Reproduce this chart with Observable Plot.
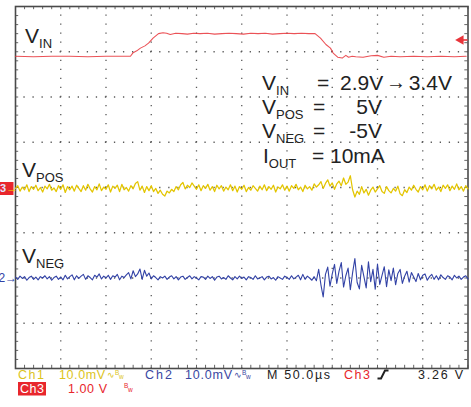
<!DOCTYPE html>
<html><head><meta charset="utf-8">
<script src="https://cdn.jsdelivr.net/npm/d3@7"></script>
<script src="https://cdn.jsdelivr.net/npm/@observablehq/plot@0.6"></script>
<style>
html,body{margin:0;padding:0;background:#fff;}
#chart svg{display:block;}
</style></head><body><div id="chart"></div>
<script>
// ---- scope settings ----
const timePerDivUs = 50;          // M 50.0µs
const channelNames = ["Ch1", "Ch2", "Ch3"];
const channelVoltsPerDiv = [10, 10, 1];   // mV, mV, V
const channelOffsetDiv = [0, -2, 0];      // marker positions (div)
const channelSettingText = ["10.0mV", "10.0mV", "1.00 V"];
const timebaseText = "M 50.0µs";
const triggerLevelV = 3.26;
const triggerText = "3.26 V";

// ---- Ch3: VIN (V) ----
const vinTimeUs = [0,20,40,60,80,100,120,127,130,134,138,143,147,152,158,163,167,171,177,184,190,197,204,212,220,228,236,244,252,260,268,276,284,292,300,308,316,324,331,337,343,348,351,356,361,365,368,372,376,384,393,400,407,415,425,440,455,470,485,498];
const vinVolts = [2.90,2.89,2.90,2.90,2.89,2.90,2.90,2.90,2.98,3.02,3.08,3.13,3.19,3.30,3.40,3.42,3.41,3.38,3.41,3.40,3.39,3.41,3.40,3.41,3.39,3.40,3.41,3.40,3.39,3.41,3.40,3.41,3.39,3.40,3.41,3.40,3.41,3.40,3.40,3.30,3.16,3.08,2.97,2.88,2.86,2.92,2.88,2.90,2.89,2.88,2.91,2.92,2.88,2.90,2.89,2.90,2.89,2.90,2.89,2.90];

// ---- Ch1: VPOS ripple (mV), one sample per 2.5 µs ----
const sampleStepUs = 2.5;
const vposMilliVolts = [
-0.2,0.4,-0.8,0.1,-0.5,0.6,-0.9,0.2,-0.4,0.5,
-0.7,0.0,-1.0,0.3,-0.3,0.7,-0.6,-0.1,-0.9,0.4,
-0.4,0.6,-1.1,0.2,-0.5,0.3,-0.8,0.5,-0.2,-0.9,
0.4,-0.6,0.7,-0.3,-1.0,0.2,-0.5,0.8,-0.7,0.1,
-0.4,0.6,-1.0,0.3,-0.2,0.5,-0.9,0.7,-0.5,0.0,
-0.8,0.4,-0.3,0.9,1.3,-0.6,0.3,-1.1,0.2,-0.7,
0.4,-0.9,-0.2,-1.3,-0.6,-1.5,-1.9,-0.8,-1.2,-0.4,
-0.9,0.2,-0.5,0.6,1.1,-0.3,0.5,0.0,1.0,0.3,
-0.4,0.6,-0.7,0.4,-0.2,0.7,-0.6,0.2,-0.9,0.5,
-0.3,0.4,-0.8,0.1,-0.5,0.6,-0.7,0.3,-1.0,0.2,
-0.4,0.5,-0.9,0.0,-0.6,0.4,-0.2,-0.8,0.3,-0.5,
0.6,-0.7,0.2,-0.4,0.5,-1.0,0.1,-0.3,0.6,-0.6,
0.3,-0.8,0.4,-0.2,0.7,-0.5,0.1,-0.9,0.5,-0.3,
0.2,-0.6,0.8,0.1,0.6,1.3,-0.2,0.9,1.7,0.3,
1.0,-0.4,0.8,1.4,0.4,2.1,0.7,1.2,2.6,-0.5,
-2.1,-0.8,-1.5,0.2,-1.2,-0.4,-1.7,-0.6,0.1,-1.0,
-0.3,0.4,-0.9,-1.3,0.2,-0.7,-1.2,-0.2,-0.8,0.3,
-1.4,-1.8,-0.5,-1.1,0.1,-0.6,0.5,-0.4,-1.0,0.2,
-0.5,0.6,-0.8,0.4,-0.3,0.7,-0.6,0.1,-0.9,0.5,
-0.2,0.6,-0.7,0.3,-0.4,0.8,-0.5,0.2,-0.8,0.4,-0.3];

// ---- Ch2: VNEG ripple (mV), one sample per 2.5 µs ----
const vnegMilliVolts = [
0.2,-0.3,0.4,-0.1,0.3,-0.5,0.1,0.4,-0.3,0.2,
-0.4,0.3,0.0,0.5,-0.2,0.3,-0.5,0.1,0.4,-0.3,
0.2,-0.4,0.6,-0.2,0.3,0.7,-0.4,0.5,-0.1,0.4,
0.8,-0.3,0.5,0.1,-0.4,0.6,0.2,0.9,-0.2,0.4,
0.0,0.6,-0.3,0.5,0.2,0.8,-0.4,0.4,0.1,0.7,
1.2,-0.2,1.6,0.3,0.9,2.0,-0.3,1.7,0.4,1.1,
-0.2,0.5,0.1,-0.4,0.3,0.0,0.4,-0.3,0.2,0.5,
-0.2,0.3,-0.4,0.2,0.4,-0.3,0.1,0.5,-0.2,0.3,
0.0,-0.4,0.3,0.2,-0.3,0.4,-0.1,0.3,-0.5,0.2,
0.4,-0.2,0.1,-0.3,0.5,0.0,-0.4,0.3,-0.2,0.4,
-0.1,0.2,-0.4,0.3,0.1,-0.3,0.5,-0.2,0.0,0.3,
-0.4,0.2,0.4,-0.2,0.1,-0.5,0.3,0.0,-0.3,0.4,
0.1,-0.3,0.5,-0.2,0.2,0.6,-0.4,0.8,-0.3,0.4,
0.0,-0.5,0.3,-0.6,1.9,-1.5,-4.2,0.8,2.4,-1.8,
0.9,3.0,-1.2,1.5,3.4,-2.0,0.5,2.2,-2.6,1.2,
4.3,-1.0,-2.4,2.8,0.3,-2.2,3.6,-0.8,1.9,-2.5,
3.1,-1.4,0.6,2.5,-1.9,1.8,-0.6,2.2,-1.5,1.0,
1.9,-1.2,0.4,1.5,-0.9,1.2,0.2,-0.8,1.0,-0.4,
0.6,0.9,-0.5,0.3,0.8,-0.3,0.5,-0.4,0.7,0.1,
-0.3,0.5,0.2,-0.4,0.6,0.0,0.4,-0.3,0.2,0.5,-0.2];

// ---- annotation text ----
const leftLabels = [["V","IN"],["V","POS"],["V","NEG"]];
const condLabels = [["V","IN"],["V","POS"],["V","NEG"],["I","OUT"]];
const condValues = ["2.9V", "5V", "-5V", "10mA"];
const condArrowTo = "3.4V";

// colours
const cYellow = "#e3c500", cBlue = "#3242a6", cRed = "#e8343a";
const cYellowTxt = "#dcc41c", cBlueTxt = "#3a47a2", cRedTxt = "#e8262c";

// ---- build plotted data (in divisions) ----
const vin = vinTimeUs.map((t, i) => ({t, y: vinVolts[i] / channelVoltsPerDiv[2] + channelOffsetDiv[2]}));
const vpos = vposMilliVolts.map((v, i) => ({t: i * sampleStepUs, y: v / channelVoltsPerDiv[0] + channelOffsetDiv[0]}));
const vneg = vnegMilliVolts.map((v, i) => ({t: i * sampleStepUs, y: v / channelVoltsPerDiv[1] + channelOffsetDiv[1]}));

const fullTime = timePerDivUs * 10;
const majorX = d3.range(0, fullTime + 1, timePerDivUs);
const majorY = d3.range(-4, 4.5, 1);
const minorX = d3.range(0, fullTime + 0.01, timePerDivUs / 5);
const minorY = d3.range(-4, 4.001, 0.2);
const pxPerDiv = 45.25;
const tickLenX = 3.2 * timePerDivUs / pxPerDiv; // µs
const tickLenY = 3.2 / pxPerDiv;                 // div

const gridStyle = {stroke: "#5a5a5a", strokeWidth: 1.3, strokeDasharray: "1.3 7.75", strokeDashoffset: 0.65};

const plot = Plot.plot({
  width: 471, height: 407,
  marginLeft: 15, marginRight: 3.5, marginTop: 6, marginBottom: 39,
  x: {domain: [0, fullTime], axis: null},
  y: {domain: [-4, 4], axis: null},
  style: {background: "#fff", overflow: "visible"},
  marks: [
    Plot.ruleX(majorX.slice(1, -1), {x: d => d, ...gridStyle}),
    Plot.ruleY(majorY.slice(1, -1), {y: d => d, ...gridStyle}),
    Plot.ruleX(minorX, {x: d => d, y1: -4, y2: -4 + tickLenY, stroke: "#666", strokeWidth: 1}),
    Plot.ruleX(minorX, {x: d => d, y1: 4, y2: 4 - tickLenY, stroke: "#666", strokeWidth: 1}),
    Plot.ruleY(minorY, {y: d => d, x1: 0, x2: tickLenX, stroke: "#666", strokeWidth: 1}),
    Plot.ruleY(minorY, {y: d => d, x1: fullTime, x2: fullTime - tickLenX, stroke: "#666", strokeWidth: 1}),
    Plot.frame({stroke: "#4a4a4a", strokeWidth: 1.6}),
    Plot.line(vneg, {x: "t", y: "y", stroke: cBlue, strokeWidth: 1.1}),
    Plot.line(vpos, {x: "t", y: "y", stroke: cYellow, strokeWidth: 1.25}),
    Plot.line(vin, {x: "t", y: "y", stroke: cRed, strokeWidth: 1.1, strokeOpacity: 0.85}),
    Plot.ruleY([triggerLevelV], {y: d => d, x1: fullTime - 8, x2: fullTime, stroke: cRed, strokeWidth: 1.6}),
    Plot.dot([triggerLevelV], {x: fullTime - 8, y: d => d, symbol: "triangle", rotate: -90, r: 3.6, fill: cRed, stroke: "none"})
  ]
});
document.getElementById("chart").appendChild(plot);

// ---- text overlay ----
const svg = d3.select(plot);
const ys = plot.scale("y");
const F = "'Liberation Sans', Arial, Helvetica, sans-serif";
const g = svg.append("g").attr("text-anchor", "start");

function sublabel(x, y, main, sub, fs, ss, fill = "#222") {
  const t = g.append("text").attr("x", x).attr("y", y).attr("font-family", F)
    .attr("font-size", fs).attr("fill", fill).attr("text-anchor", "start");
  t.append("tspan").text(main);
  t.append("tspan").attr("font-size", ss).attr("dy", 5).text(sub);
  return t;
}
function txt(x, y, s, fs, fill = "#222", anchor = "start", extra = {}) {
  const t = g.append("text").attr("x", x).attr("y", y).attr("font-family", F)
    .attr("font-size", fs).attr("fill", fill).attr("text-anchor", anchor).text(s);
  for (const k in extra) t.attr(k, extra[k]);
  return t;
}

// left trace labels
sublabel(25, 43, leftLabels[0][0], leftLabels[0][1], 21, 13);
sublabel(22, 177, leftLabels[1][0], leftLabels[1][1], 21, 13);
sublabel(22, 263, leftLabels[2][0], leftLabels[2][1], 21, 13);

// conditions block
const rowY = [90, 114, 138, 163];
const eqX = [317, 313, 313, 312];
condLabels.forEach((l, i) => {
  sublabel(i === 3 ? 263 : 262, rowY[i], l[0], l[1], 21, 13);
  txt(eqX[i], rowY[i], "=", 21);
});
txt(340, rowY[0], condValues[0], 21);
txt(386, rowY[0] - 1, "→", 20);
txt(452, rowY[0], condArrowTo, 21, "#222", "end");
txt(382, rowY[1], condValues[1], 21, "#222", "end");
txt(382, rowY[2], condValues[2], 21, "#222", "end");
txt(330, rowY[3], condValues[3], 21);

// channel markers in left margin
const y0 = ys.apply(channelOffsetDiv[2]);
g.append("rect").attr("x", -2).attr("y", y0 - 5).attr("width", 15.5).attr("height", 13).attr("fill", cRedTxt);
txt(0, y0 + 5, "3", 11, "#dfe2ff", "start", {"font-weight": "bold"});
txt(6, y0 + 4.5, "→", 12, "#f2d400", "start", {"font-weight": "bold"});
const y2 = ys.apply(channelOffsetDiv[1]);
txt(-1.5, y2 + 4.5, "2", 12, cBlue, "start");
txt(5, y2 + 4.5, "→", 12, cBlue, "start", {"font-weight": "bold"});

// status bar
const r1 = 378.5, r2 = 392.5, sfs = 12.5;
function stat(x, y, s, fill, w, anchor = "start") {
  return txt(x, y, s, sfs, fill, anchor, {textLength: w, lengthAdjust: "spacing"});
}
stat(18, r1, channelNames[0], cYellowTxt, 26);
stat(59, r1, channelSettingText[0], cYellowTxt, 46);
txt(107, r1 - 1, "∿", 9, cYellowTxt);
txt(115, r1 - 3.5, "B", 6.5, cYellowTxt);
txt(119, r1, "w", 6.5, cYellowTxt);
stat(145, r1, channelNames[1], cBlueTxt, 27);
stat(185, r1, channelSettingText[1], cBlueTxt, 47);
txt(234, r1 - 1, "∿", 9, cBlueTxt);
txt(242, r1 - 3.5, "B", 6.5, cBlueTxt);
txt(246, r1, "w", 6.5, cBlueTxt);
stat(267, r1, timebaseText, "#222", 63);
stat(344, r1, channelNames[2], cRedTxt, 26);
g.append("path").attr("d", "M377.5,378.5 L381,378.5 L385,370.5 L388.5,370.5")
  .attr("fill", "none").attr("stroke", "#222").attr("stroke-width", 2);
stat(463, r1, triggerText, "#222", 45, "end");

g.append("rect").attr("x", 18).attr("y", 382).attr("width", 28).attr("height", 13.5).attr("fill", cRedTxt);
stat(20, r2, channelNames[2], "#fff", 24);
stat(68, r2, channelSettingText[2], cRedTxt, 39);
txt(124, r2 - 4.5, "B", 6.5, cRedTxt);
txt(128, r2 - 1, "w", 6.5, cRedTxt);
</script>
</body></html>
